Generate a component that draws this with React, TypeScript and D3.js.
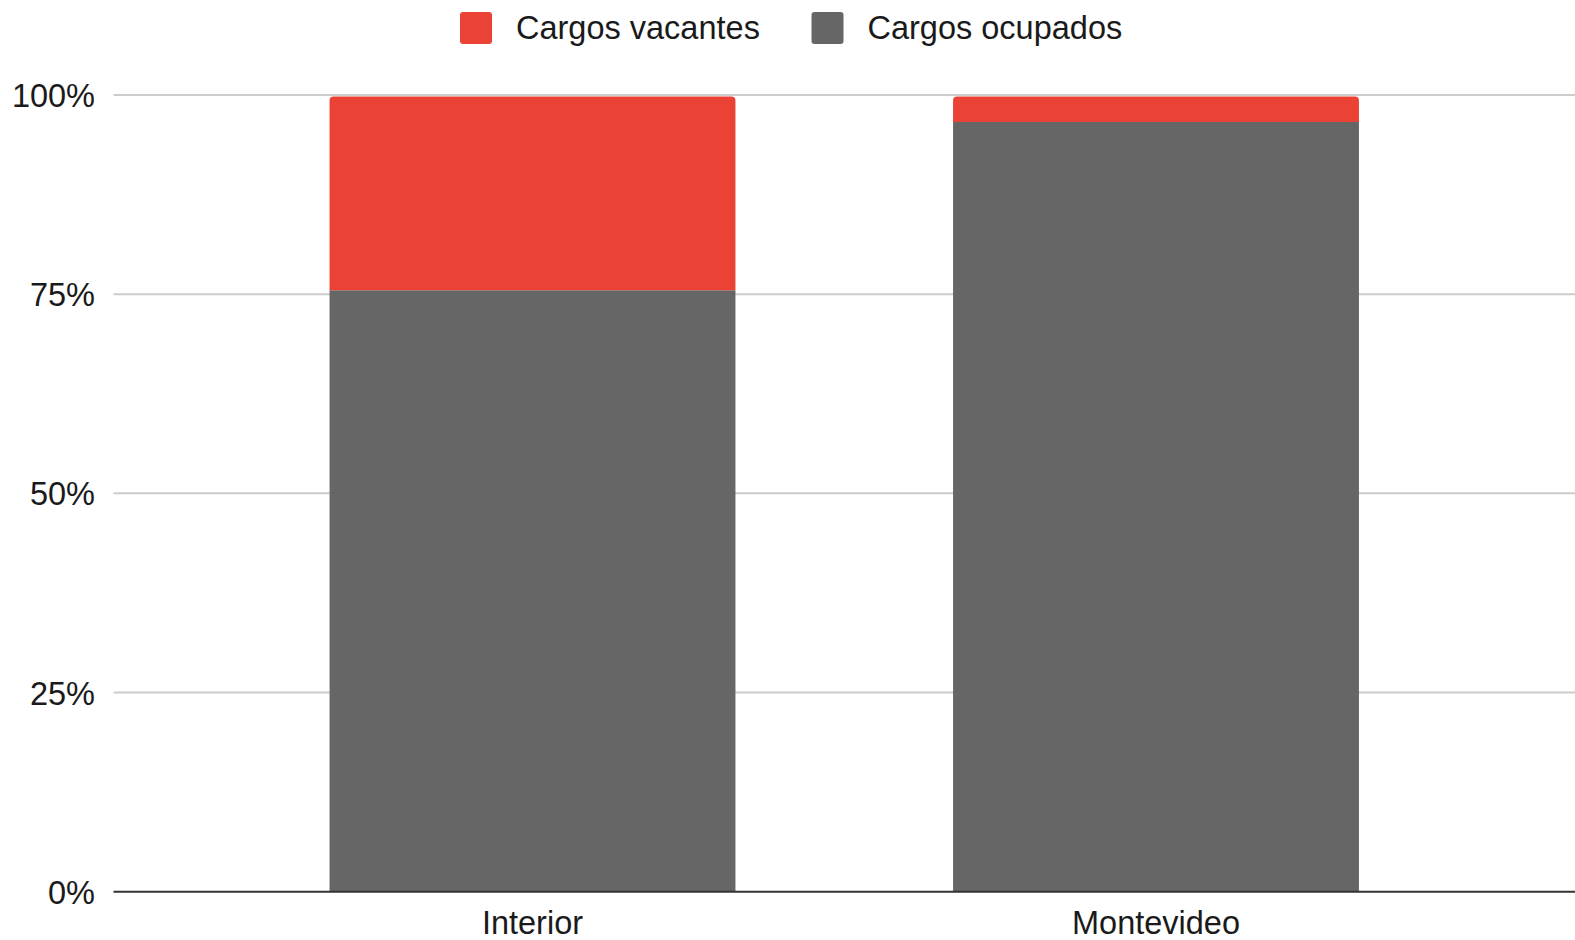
import { useEffect, useRef } from "react";
import * as d3 from "d3";

const categories = ["Interior", "Montevideo"];
const seriesNames = ["Cargos ocupados", "Cargos vacantes"];
const ocupados = [75.5, 96.6];
const vacantes = [24.5, 3.4];
const yTicks = [0, 25, 50, 75, 100];
const tickLabels = ["0%", "25%", "50%", "75%", "100%"];
const colors = { "Cargos ocupados": "#666666", "Cargos vacantes": "#ea4335" };

const W = 1575;
const H = 940;
const FONT = "'Liberation Sans', Arial, sans-serif";
const FS = 32.5;

// top-rounded rectangle
function roundTop(x, y, w, h, r) {
  const rr = Math.min(r, h, w / 2);
  return `M${x},${y + h}V${y + rr}Q${x},${y} ${x + rr},${y}H${x + w - rr}Q${x + w},${y} ${x + w},${y + rr}V${y + h}Z`;
}

export default function App() {
  const ref = useRef<SVGSVGElement>(null);

  useEffect(() => {
    document.body.style.margin = "0";
    const svg = d3.select(ref.current);
    svg.selectAll("*").remove();

    const left = 113.5;
    const right = W;
    const top = 95;
    const bottom = 891.7;

    const x = d3.scaleBand().domain(categories).range([left, right]).paddingInner(0.349).paddingOuter(0.3465);
    const y = d3.scaleLinear().domain([0, 100]).range([bottom, top]);

    // gridlines
    svg.append("g")
      .selectAll("line")
      .data(yTicks.filter((t) => t > 0))
      .join("line")
      .attr("x1", left)
      .attr("x2", right)
      .attr("y1", (d) => y(d))
      .attr("y2", (d) => y(d))
      .attr("stroke", "#cccccc")
      .attr("stroke-width", 2);

    // y labels
    svg.append("g")
      .selectAll("text")
      .data(yTicks)
      .join("text")
      .attr("x", 95)
      .attr("y", (d) => y(d) + 12)
      .attr("text-anchor", "end")
      .attr("font-family", FONT)
      .attr("font-size", FS)
      .attr("fill", "#1a1a1a")
      .text((d, i) => tickLabels[i]);

    const rows = categories.map((c, i) => ({ cat: c, "Cargos ocupados": ocupados[i], "Cargos vacantes": vacantes[i] }));
    const stacked = d3.stack().keys(seriesNames)(rows);

    stacked.forEach((layer, li) => {
      svg.append("g")
        .selectAll("path")
        .data(layer)
        .join("path")
        .attr("fill", colors[layer.key])
        .attr("d", (d) => {
          const x0 = x(d.data.cat);
          const y0 = y(d[1]);
          const h = y(d[0]) - y(d[1]);
          const isTop = li === stacked.length - 1;
          return isTop ? roundTop(x0, y0 + 1.5, x.bandwidth(), h - 1.5, 4) : `M${x0},${y0}h${x.bandwidth()}v${h}h${-x.bandwidth()}Z`;
        });
    });

    // baseline axis
    svg.append("line")
      .attr("x1", left)
      .attr("x2", right)
      .attr("y1", bottom)
      .attr("y2", bottom)
      .attr("stroke", "#333333")
      .attr("stroke-width", 2);

    // x labels
    svg.append("g")
      .selectAll("text")
      .data(categories)
      .join("text")
      .attr("x", (d) => x(d) + x.bandwidth() / 2)
      .attr("y", 934)
      .attr("text-anchor", "middle")
      .attr("font-family", FONT)
      .attr("font-size", FS)
      .attr("fill", "#1a1a1a")
      .text((d) => d);

    // legend
    const legendItems = [
      { name: "Cargos vacantes", x: 460 },
      { name: "Cargos ocupados", x: 811.5 },
    ];
    const lg = svg.append("g").selectAll("g").data(legendItems).join("g");
    lg.append("rect")
      .attr("x", (d) => d.x)
      .attr("y", 12)
      .attr("width", 32)
      .attr("height", 32)
      .attr("rx", 3)
      .attr("fill", (d) => colors[d.name]);
    lg.append("text")
      .attr("x", (d) => d.x + 56)
      .attr("y", 38.5)
      .attr("font-family", FONT)
      .attr("font-size", FS)
      .attr("fill", "#1a1a1a")
      .text((d) => d.name);
  }, []);

  return <svg ref={ref} width={W} height={H} style={{ display: "block", background: "#fff" }}></svg>;
}
